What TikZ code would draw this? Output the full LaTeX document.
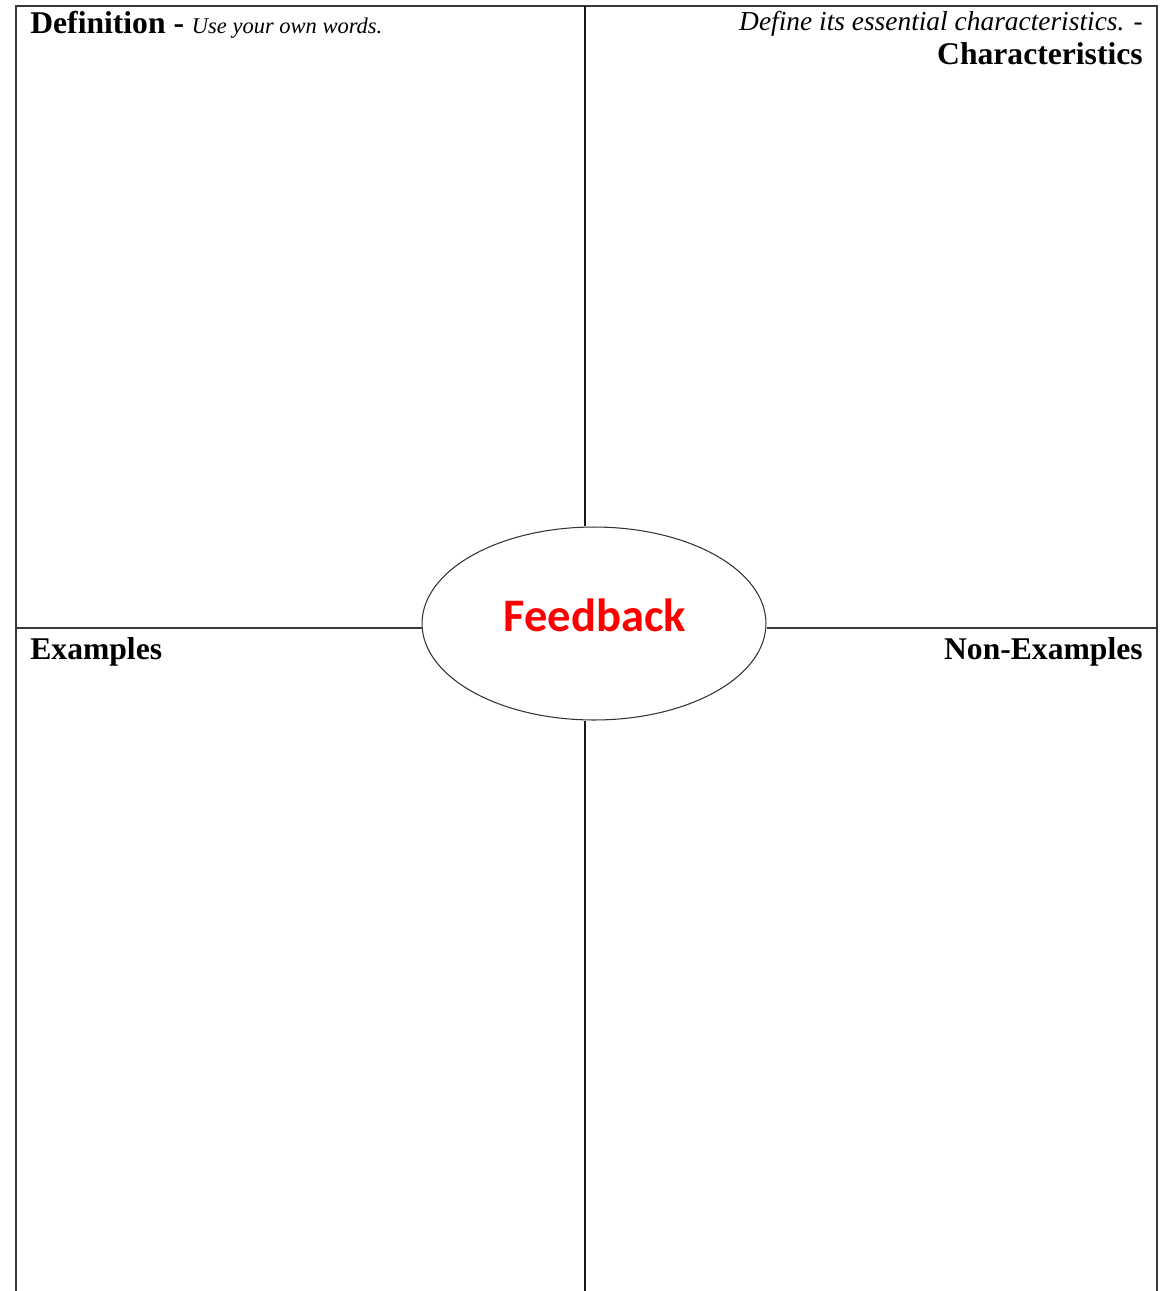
\documentclass[tikz,border=0pt]{standalone}
\usepackage{fontspec}
\setmainfont{Liberation Serif}
\newfontfamily\calibri{Carlito}
\usetikzlibrary{shapes.geometric, positioning}

\begin{document}
\begin{tikzpicture}[
        x=0.02cm, y=-0.02cm,
        frame/.style={draw=black!78, line width=1.2pt},
        divider/.style={draw=black!90, line width=0.9pt},
        heading/.style={font=\fontsize{18}{20}\selectfont\bfseries, inner sep=0pt},
        hint/.style={font=\fontsize{15.6}{18}\selectfont\itshape, inner sep=0pt},
        bubble/.style={ellipse, draw=black!80, line width=0.6pt, minimum width=6.88cm, minimum height=3.86cm, inner sep=0pt}
    ]
    \useasboundingbox (0,0) rectangle (1170,1291);

        % ================= FRAME =================
        \coordinate (tl) at (16,6);
        \coordinate (tr) at (1157,6);
        \coordinate (bl) at (16,1291);
        \coordinate (br) at (1157,1291);
        \draw[frame] (bl) -- (tl) -- (tr) -- (br);

        % ================= CENTRE =================
        \node[bubble] (feedback) at (594,623.5) {};
        \node[anchor=base, inner sep=0pt, text=red, font=\calibri\fontsize{26.5}{30}\selectfont\bfseries] (fblabel) at (595,631) {Feedback};

        % dividers meet the bubble
        \coordinate (topmid) at (585,6);
        \coordinate (botmid) at (585,1291);
        \coordinate (leftmid) at (16,628);
        \coordinate (rightmid) at (1157,628);
        \draw[divider] (topmid) -- (topmid |- feedback.north);
        \draw[divider] (botmid) -- (botmid |- feedback.south);
        \draw[frame] (leftmid) -- (leftmid -| feedback.west);
        \draw[frame] (rightmid) -- (rightmid -| feedback.east);

        % ================= QUADRANT LABELS =================
        \node[heading, anchor=base west] (defn) at (30,34) {Definition - {\fontsize{12.8}{15}\selectfont\mdseries\itshape Use your own words.}};
        \node[hint, anchor=base east] (charhint) at (1143,31) {Define its essential characteristics. -};
        \node[heading, anchor=base east] (chars) at (1143,65) {Characteristics};
        \node[heading, anchor=base west] (examples) at (30,659) {Examples};
        \node[heading, anchor=base east] (nonexamples) at (1143,659) {Non-Examples};

    \end{tikzpicture}
\end{document}
